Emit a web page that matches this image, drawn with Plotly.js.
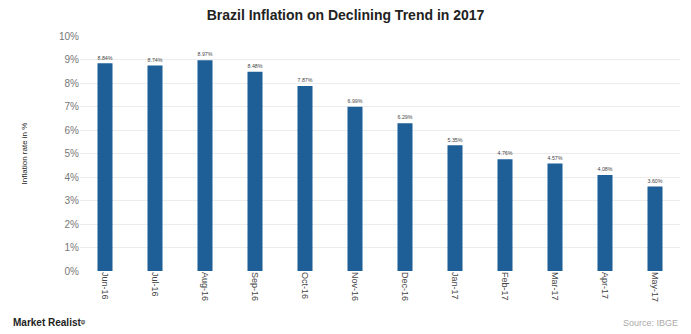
<!DOCTYPE html>
<html><head><meta charset="utf-8">
<script src="https://cdn.plot.ly/plotly-3.0.1.min.js"></script>
<style>html,body{margin:0;padding:0;background:#fff}#c{width:691px;height:334px}</style>
</head><body><div id="c"></div>
<script>
const months = ["Jun-16","Jul-16","Aug-16","Sep-16","Oct-16","Nov-16","Dec-16","Jan-17","Feb-17","Mar-17","Apr-17","May-17"];
const inflation = [8.84, 8.74, 8.97, 8.48, 7.87, 6.99, 6.29, 5.35, 4.76, 4.57, 4.08, 3.60];
const yTicks = [0,1,2,3,4,5,6,7,8,9,10];

Plotly.newPlot('c', [{
  type: 'bar', x: months, y: inflation,
  marker: {color: '#1d5f96'},
  text: inflation.map(v => v.toFixed(2) + '%'),
  textposition: 'outside', cliponaxis: false,
  textfont: {family: 'Arial, Liberation Sans, sans-serif', size: 7, color: '#444'},
  hoverinfo: 'none'
}], {
  width: 691, height: 334,
  margin: {l: 80, r: 11, t: 36, b: 63},
  paper_bgcolor: '#fff', plot_bgcolor: '#fff',
  bargap: 0.7,
  showlegend: false,
  title: {text: '<b>Brazil Inflation on Declining Trend in 2017</b>', x: 0.5, xanchor: 'center', y: 0.955, yanchor: 'middle',
    font: {family: 'Arial, Liberation Sans, sans-serif', size: 14, color: '#222'}},
  xaxis: {tickangle: 90, tickfont: {family: 'Arial, Liberation Sans, sans-serif', size: 9, color: '#444'},
    showgrid: false, zeroline: false, showline: false, ticks: ''},
  yaxis: {range: [0, 10], tickvals: yTicks, ticktext: yTicks.map(v => v + '%'),
    tickfont: {family: 'Arial, Liberation Sans, sans-serif', size: 10, color: '#777'},
    gridcolor: '#ececec', zeroline: false, showline: false, ticks: '',
    title: {text: 'Inflation rate in %', font: {family: 'Arial, Liberation Sans, sans-serif', size: 8, color: '#222'}, standoff: 30}},
  annotations: [
    {text: '<b>Market Realist</b>ᵠ', xref: 'paper', yref: 'paper', x: -0.115, xanchor: 'left', y: -0.22, yanchor: 'middle', showarrow: false,
     font: {family: 'Arial, Liberation Sans, sans-serif', size: 10, color: '#222'}},
    {text: 'Source: IBGE', xref: 'paper', yref: 'paper', x: 1.0, xanchor: 'right', y: -0.22, yanchor: 'middle', showarrow: false,
     font: {family: 'Arial, Liberation Sans, sans-serif', size: 9, color: '#aaa'}}
  ]
}, {displayModeBar: false, staticPlot: true});
</script></body></html>
